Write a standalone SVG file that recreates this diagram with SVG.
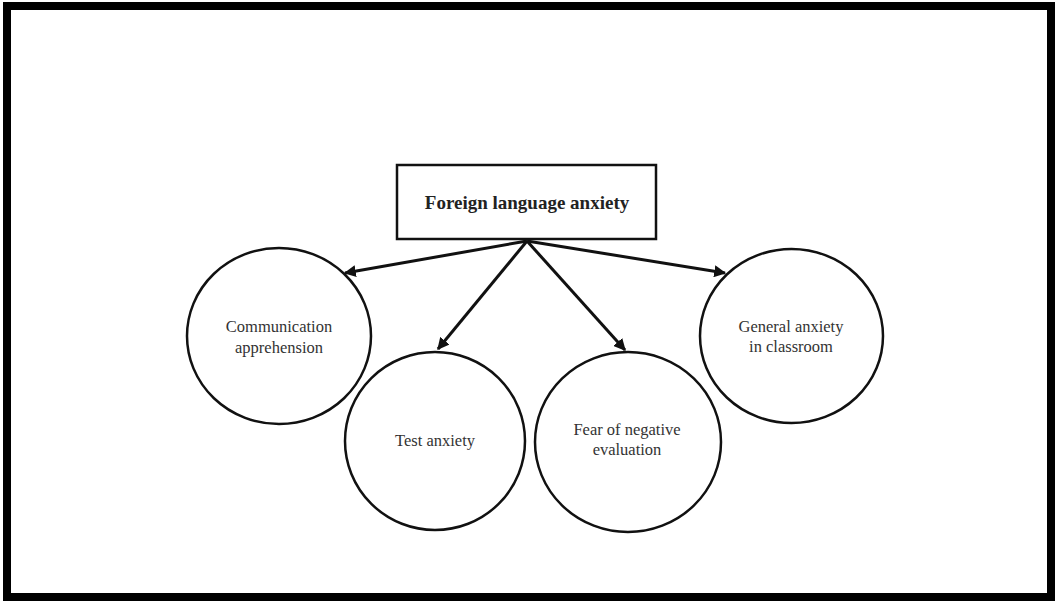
<svg xmlns="http://www.w3.org/2000/svg" width="1058" height="602" viewBox="0 0 1058 602">
<style>
.node{fill:#fff;stroke:#111;stroke-width:2.5}
.lbl{font-family:"Liberation Serif","Times New Roman",serif;font-size:16.5px;fill:#333;text-anchor:middle}
.title{font-family:"Liberation Serif","Times New Roman",serif;font-size:19px;font-weight:bold;fill:#222;text-anchor:middle}
.conn{stroke:#111;stroke-width:3;fill:none;marker-end:url(#ah)}
</style>
<defs>
<marker id="ah" viewBox="0 0 10 10" refX="9" refY="5" markerWidth="4" markerHeight="4" markerUnits="strokeWidth" orient="auto">
<path d="M0,0 L10,5 L0,10 z" fill="#111"/>
</marker>
</defs>
<rect x="0" y="0" width="1058" height="602" fill="#fff"/>
<rect x="7" y="6" width="1044" height="591" fill="none" stroke="#000" stroke-width="8"/>
<g id="connectors">
<line class="conn" x1="527" y1="241" x2="345" y2="273"/>
<line class="conn" x1="527" y1="241" x2="438" y2="349"/>
<line class="conn" x1="527" y1="241" x2="625" y2="350"/>
<line class="conn" x1="527" y1="241" x2="725" y2="273"/>
</g>
<g id="foreign-language-anxiety">
<rect class="node" x="397" y="165" width="259" height="74" stroke-width="3"/>
<text class="title" x="527" y="209">Foreign language anxiety</text>
</g>
<g id="communication-apprehension">
<ellipse class="node" cx="279" cy="336" rx="92" ry="88"/>
<text class="lbl" x="279" y="332">Communication</text>
<text class="lbl" x="279" y="353">apprehension</text>
</g>
<g id="test-anxiety">
<ellipse class="node" cx="435" cy="441" rx="90" ry="89"/>
<text class="lbl" x="435" y="446">Test anxiety</text>
</g>
<g id="fear-of-negative-evaluation">
<ellipse class="node" cx="628" cy="442" rx="93" ry="90"/>
<text class="lbl" x="627" y="435">Fear of negative</text>
<text class="lbl" x="627" y="455">evaluation</text>
</g>
<g id="general-anxiety">
<ellipse class="node" cx="791.5" cy="336" rx="91.5" ry="87"/>
<text class="lbl" x="791" y="332">General anxiety</text>
<text class="lbl" x="791" y="352">in classroom</text>
</g>
</svg>
